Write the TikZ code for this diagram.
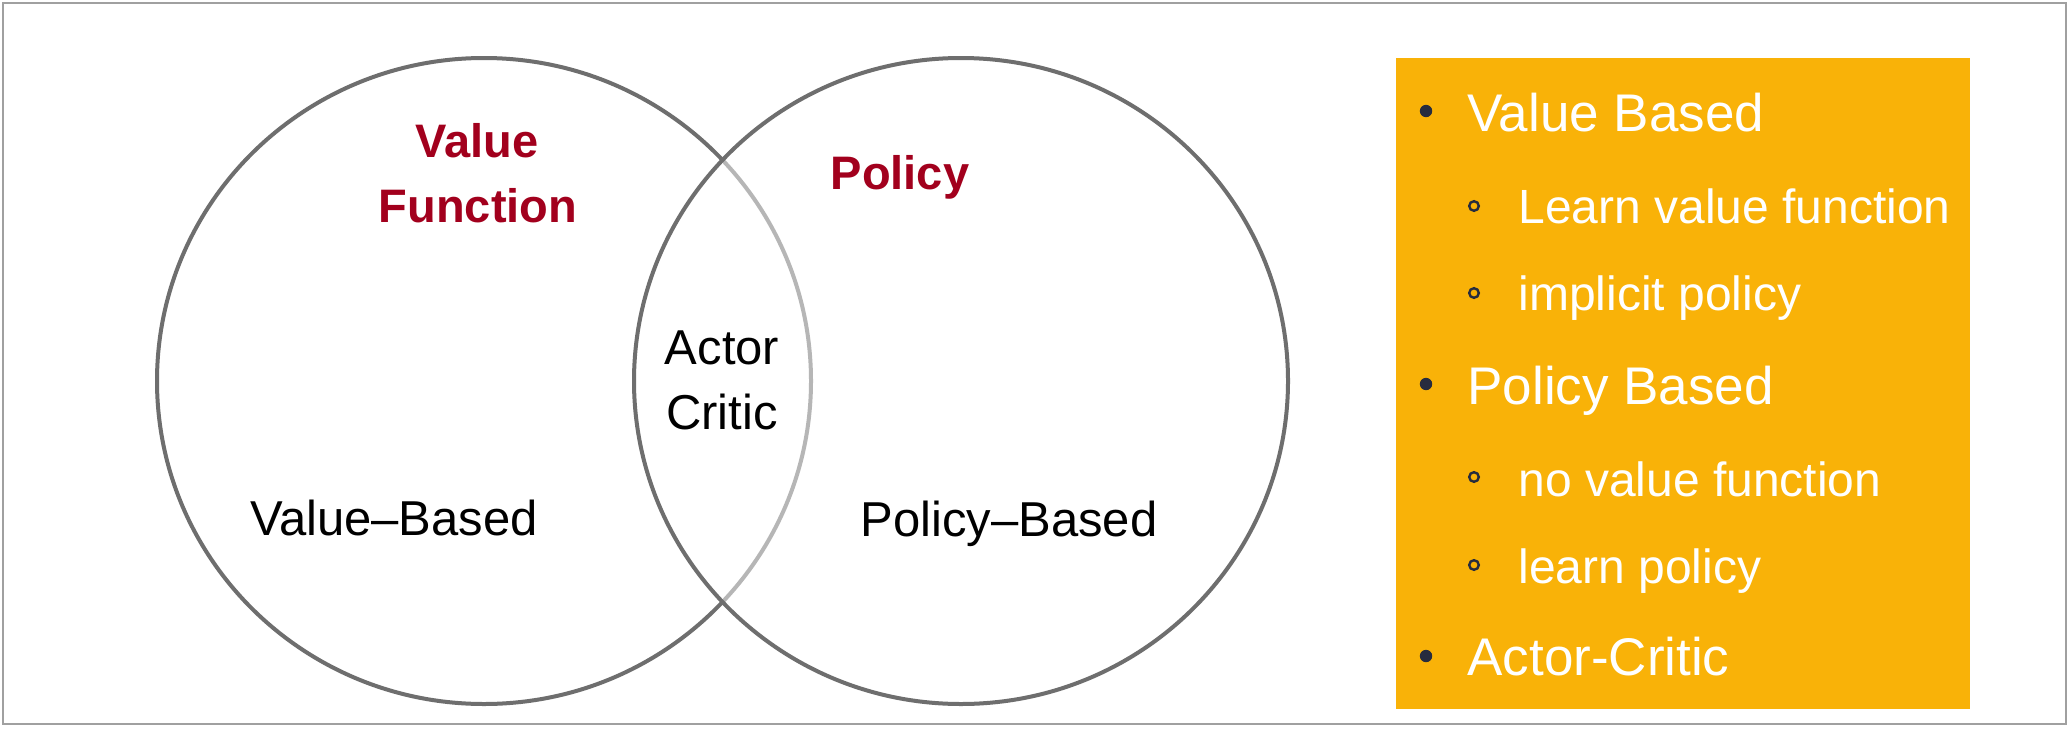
\documentclass[tikz,border=0pt]{standalone}
\usepackage{fontspec}
\setmainfont{Liberation Sans}
\definecolor{boxorange}{HTML}{F9B208}
\definecolor{labelred}{HTML}{A2001D}
\definecolor{ringgray}{HTML}{6E6E6E}
\definecolor{bulletnavy}{HTML}{272C3E}
\definecolor{framegray}{HTML}{A0A0A0}
\begin{document}
\begin{tikzpicture}[x=0.5pt,y=-0.5pt,
  ring/.style={draw=ringgray,line width=2pt},
  redlabel/.style={inner sep=0pt,anchor=base,text=labelred,font=\fontsize{23.5}{28}\selectfont\bfseries},
  blacklabel/.style={inner sep=0pt,anchor=base,text=black,font=\fontsize{24.5}{29}\selectfont},
  mainitem/.style={inner sep=0pt,anchor=base west,text=white,font=\fontsize{26.5}{31}\selectfont},
  subitem/.style={inner sep=0pt,anchor=base west,text=white,font=\fontsize{24}{29}\selectfont},
  mainbullet/.style={fill=bulletnavy},
  subbullet/.style={draw=bulletnavy,line width=1.2pt}]
\useasboundingbox (0,0) rectangle (2070,728);
\fill[white] (0,0) rectangle (2070,728);
\draw[framegray,line width=1.3pt] (3,3) rectangle (2066,724);
% Venn circles
\draw[ring] (484,381) ellipse [x radius=163.5pt, y radius=161.5pt];
\fill[white,fill opacity=0.5] (961,381) ellipse [x radius=163.5pt, y radius=161.5pt];
\draw[ring] (961,381) ellipse [x radius=163.5pt, y radius=161.5pt];
% labels
\node[redlabel] (value) at (477,157) {Value};
\node[redlabel] (function) at (478,222) {Function};
\node[redlabel] (policy) at (900,189) {Policy};
\node[blacklabel] (actor) at (722,364) {Actor};
\node[blacklabel] (critic) at (722,429) {Critic};
\node[blacklabel] (vbased) at (394,535) {Value–Based};
\node[blacklabel] (pbased) at (1009,536) {Policy–Based};
% box
\fill[boxorange] (1396,58) rectangle (1970,709);
\fill[mainbullet] (1426,111) circle[radius=3.1pt];
\node[mainitem] (i1) at (1467,131) {Value Based};
\draw[subbullet] (1474,206) circle[radius=2.4pt];
\node[subitem] (i2) at (1518,223) {Learn value function};
\draw[subbullet] (1474,293) circle[radius=2.4pt];
\node[subitem] (i3) at (1518,310) {implicit policy};
\fill[mainbullet] (1426,384) circle[radius=3.1pt];
\node[mainitem] (i4) at (1467,404) {Policy Based};
\draw[subbullet] (1474,477) circle[radius=2.4pt];
\node[subitem] (i5) at (1518,496) {no value function};
\draw[subbullet] (1474,565) circle[radius=2.4pt];
\node[subitem] (i6) at (1518,583) {learn policy};
\fill[mainbullet] (1426,656) circle[radius=3.1pt];
\node[mainitem] (i7) at (1467,675) {Actor-Critic};
\end{tikzpicture}
\end{document}
